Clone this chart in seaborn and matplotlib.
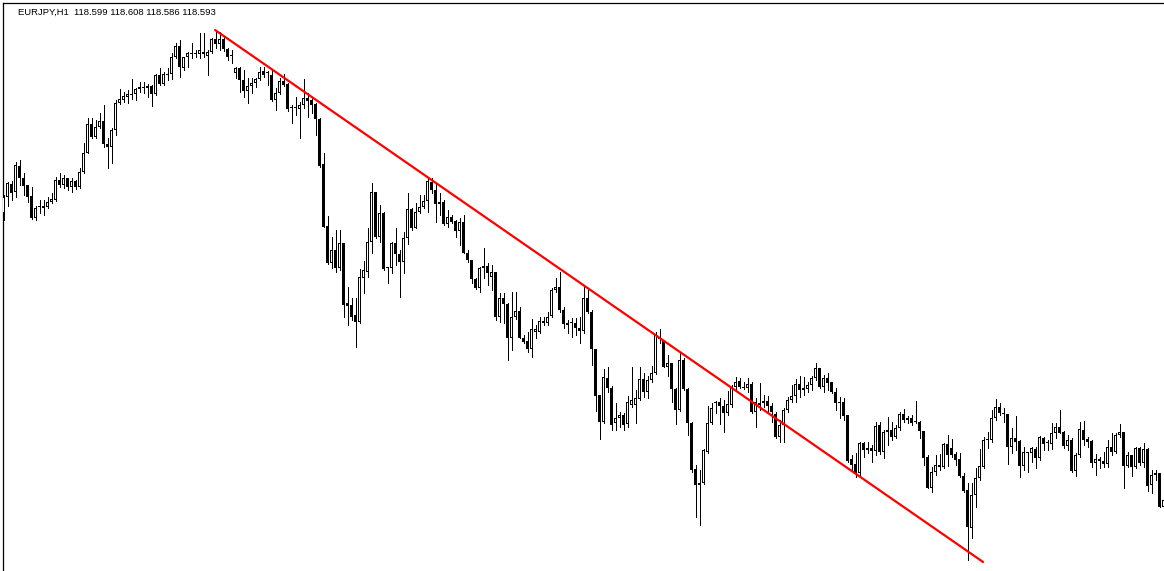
import numpy as np
import pandas as pd
import matplotlib
matplotlib.use("Agg")
import matplotlib.pyplot as plt
import seaborn as sns

symbol_label = "EURJPY,H1  118.599 118.608 118.586 118.593"

opens = [
    121.51, 121.67, 121.80, 121.72, 121.98, 121.86, 121.79, 121.68, 121.46, 121.57,
    121.56, 121.57, 121.62, 121.64, 121.84, 121.79, 121.86, 121.77, 121.83, 121.77,
    121.92, 122.11, 122.40, 122.27, 122.37, 122.43, 122.20, 122.17, 122.34, 122.61,
    122.64, 122.67, 122.69, 122.70, 122.75, 122.76, 122.76, 122.78, 122.70, 122.89,
    122.80, 122.89, 122.90, 123.07, 123.18, 122.96, 123.07, 123.10, 123.10, 123.10,
    123.12, 123.08, 123.12, 123.25, 123.20, 123.25, 123.15, 123.09, 122.91, 122.96,
    122.84, 122.73, 122.78, 122.81, 122.85, 122.93, 122.91, 122.89, 122.64, 122.71,
    122.83, 122.80, 122.56, 122.56, 122.55, 122.59, 122.66, 122.64, 122.60, 122.45,
    122.00, 121.38, 121.01, 121.14, 120.96, 121.21, 120.61, 120.59, 120.49, 120.42,
    120.86, 120.92, 121.22, 121.72, 121.27, 121.51, 120.96, 120.96, 121.21, 121.10,
    121.02, 121.26, 121.55, 121.36, 121.52, 121.57, 121.63, 121.82, 121.74, 121.60,
    121.62, 121.40, 121.47, 121.43, 121.33, 121.42, 121.11, 121.04, 120.85, 120.76,
    120.96, 120.98, 120.87, 120.92, 120.47, 120.66, 120.60, 120.26, 120.47, 120.53,
    120.26, 120.23, 120.15, 120.32, 120.32, 120.41, 120.41, 120.48, 120.74, 120.77,
    120.54, 120.41, 120.41, 120.41, 120.36, 120.33, 120.66, 120.52, 120.15, 119.69,
    119.42, 119.86, 119.76, 119.41, 119.46, 119.49, 119.40, 119.59, 119.59, 119.65,
    119.85, 119.72, 119.84, 119.91, 120.27, 120.24, 119.97, 120.01, 119.75, 119.54,
    120.04, 119.75, 119.41, 118.95, 118.79, 118.81, 119.12, 119.41, 119.61, 119.62,
    119.58, 119.51, 119.59, 119.77, 119.83, 119.77, 119.76, 119.80, 119.52, 119.59,
    119.61, 119.63, 119.58, 119.50, 119.27, 119.39, 119.54, 119.64, 119.68, 119.80,
    119.76, 119.75, 119.79, 119.86, 119.96, 119.77, 119.86, 119.82, 119.72, 119.62,
    119.62, 119.49, 119.05, 119.00, 118.91, 119.21, 119.16, 119.16, 119.13, 119.39,
    119.12, 119.32, 119.34, 119.27, 119.36, 119.50, 119.44, 119.46, 119.43, 119.42,
    119.33, 119.07, 118.76, 118.92, 118.97, 118.97, 119.20, 119.16, 119.10, 119.05,
    118.88, 118.74, 118.36, 118.69, 118.86, 118.97, 119.24, 119.24, 119.46, 119.57,
    119.51, 119.50, 119.17, 119.26, 119.23, 118.98, 119.12, 119.11, 119.15, 119.06,
    119.26, 119.21, 119.20, 119.31, 119.37, 119.32, 119.18, 119.24, 118.93, 119.09,
    119.34, 119.25, 119.23, 119.01, 119.03, 119.03, 119.00, 119.17, 119.12, 119.29,
    119.32, 118.98, 119.09, 118.97, 119.16, 119.01, 119.15, 118.79, 118.89, 118.91,
    118.57,
]

highs = [
    121.69, 121.82, 121.83, 122.02, 122.04, 121.91, 121.79, 121.77, 121.58, 121.64,
    121.64, 121.67, 121.71, 121.87, 121.91, 121.89, 121.86, 121.86, 121.84, 121.96,
    122.21, 122.46, 122.46, 122.44, 122.51, 122.59, 122.26, 122.36, 122.64, 122.75,
    122.72, 122.74, 122.85, 122.76, 122.82, 122.82, 122.80, 122.79, 122.90, 122.96,
    122.92, 122.96, 123.11, 123.21, 123.24, 123.07, 123.12, 123.21, 123.14, 123.31,
    123.31, 123.14, 123.26, 123.34, 123.32, 123.27, 123.16, 123.14, 122.97, 122.97,
    122.94, 122.86, 122.86, 122.86, 122.97, 122.97, 122.93, 122.94, 122.76, 122.86,
    122.90, 122.81, 122.59, 122.67, 122.62, 122.85, 122.71, 122.67, 122.61, 122.46,
    122.11, 121.48, 121.27, 121.34, 121.34, 121.21, 120.77, 120.66, 120.66, 120.95,
    121.03, 121.36, 121.81, 121.72, 121.59, 121.52, 120.97, 121.22, 121.36, 121.14,
    121.32, 121.71, 121.56, 121.61, 121.69, 121.69, 121.86, 121.86, 121.81, 121.71,
    121.64, 121.54, 121.49, 121.44, 121.46, 121.49, 121.14, 121.04, 120.86, 120.97,
    121.16, 121.01, 120.99, 120.92, 120.71, 120.71, 120.61, 120.72, 120.72, 120.57,
    120.29, 120.32, 120.45, 120.39, 120.47, 120.47, 120.52, 120.76, 120.86, 120.92,
    120.57, 120.44, 120.46, 120.46, 120.47, 120.77, 120.76, 120.54, 120.15, 119.69,
    119.95, 119.97, 119.78, 119.61, 119.52, 119.51, 119.68, 119.97, 119.74, 119.97,
    119.91, 119.88, 119.98, 120.32, 120.35, 120.24, 120.09, 120.01, 119.76, 120.12,
    120.06, 119.76, 119.42, 118.99, 118.94, 119.15, 119.58, 119.61, 119.63, 119.66,
    119.64, 119.73, 119.79, 119.87, 119.86, 119.82, 119.86, 119.82, 119.66, 119.81,
    119.69, 119.68, 119.61, 119.52, 119.44, 119.56, 119.67, 119.79, 119.85, 119.88,
    119.87, 119.82, 119.88, 120.01, 119.96, 119.89, 119.91, 119.82, 119.76, 119.67,
    119.66, 119.49, 119.09, 119.11, 119.22, 119.22, 119.22, 119.19, 119.42, 119.42,
    119.34, 119.47, 119.42, 119.39, 119.52, 119.55, 119.48, 119.49, 119.63, 119.43,
    119.33, 119.09, 118.97, 119.09, 119.10, 119.21, 119.29, 119.25, 119.12, 119.11,
    118.91, 118.81, 118.81, 118.96, 119.15, 119.27, 119.32, 119.54, 119.65, 119.61,
    119.56, 119.50, 119.36, 119.48, 119.24, 119.17, 119.12, 119.17, 119.17, 119.28,
    119.27, 119.24, 119.41, 119.41, 119.54, 119.33, 119.29, 119.26, 119.11, 119.42,
    119.43, 119.27, 119.24, 119.10, 119.07, 119.12, 119.24, 119.31, 119.31, 119.40,
    119.32, 119.12, 119.09, 119.17, 119.17, 119.21, 119.16, 118.94, 118.94, 118.91,
    118.74,
]

lows = [
    121.44, 121.58, 121.64, 121.67, 121.79, 121.69, 121.62, 121.45, 121.44, 121.51,
    121.49, 121.56, 121.61, 121.63, 121.77, 121.76, 121.74, 121.72, 121.75, 121.76,
    121.91, 122.11, 122.26, 122.26, 122.36, 122.17, 121.96, 122.01, 122.29, 122.60,
    122.62, 122.61, 122.65, 122.64, 122.72, 122.71, 122.67, 122.58, 122.69, 122.79,
    122.79, 122.84, 122.85, 123.06, 122.87, 122.94, 122.97, 123.06, 123.07, 123.06,
    123.07, 122.89, 123.11, 123.16, 123.14, 123.13, 123.04, 123.01, 122.86, 122.72,
    122.67, 122.61, 122.71, 122.77, 122.84, 122.87, 122.79, 122.63, 122.54, 122.70,
    122.78, 122.53, 122.41, 122.49, 122.26, 122.56, 122.47, 122.51, 122.29, 121.97,
    121.37, 121.00, 120.96, 120.92, 120.94, 120.47, 120.39, 120.44, 120.17, 120.41,
    120.71, 120.87, 121.11, 121.26, 121.22, 120.94, 120.81, 120.91, 120.99, 120.67,
    120.91, 121.20, 121.34, 121.36, 121.51, 121.56, 121.52, 121.71, 121.42, 121.49,
    121.39, 121.37, 121.41, 121.27, 121.19, 121.11, 121.02, 120.81, 120.75, 120.72,
    120.86, 120.79, 120.74, 120.44, 120.42, 120.41, 120.04, 120.14, 120.45, 120.26,
    120.21, 120.12, 120.07, 120.26, 120.31, 120.39, 120.39, 120.47, 120.72, 120.52,
    120.36, 120.31, 120.27, 120.29, 120.21, 120.31, 120.51, 119.99, 119.53, 119.25,
    119.41, 119.72, 119.34, 119.34, 119.37, 119.34, 119.37, 119.57, 119.41, 119.64,
    119.67, 119.66, 119.82, 119.90, 120.21, 119.97, 119.88, 119.62, 119.40, 119.53,
    119.74, 119.29, 118.92, 118.47, 118.39, 118.80, 119.11, 119.40, 119.51, 119.40,
    119.32, 119.49, 119.57, 119.74, 119.76, 119.75, 119.72, 119.51, 119.37, 119.54,
    119.57, 119.52, 119.42, 119.26, 119.22, 119.22, 119.52, 119.62, 119.62, 119.67,
    119.69, 119.72, 119.74, 119.84, 119.76, 119.72, 119.74, 119.71, 119.54, 119.46,
    119.44, 119.02, 118.94, 118.87, 118.89, 119.07, 119.11, 119.02, 119.09, 119.10,
    119.06, 119.19, 119.24, 119.26, 119.34, 119.42, 119.41, 119.39, 119.41, 119.26,
    118.99, 118.76, 118.72, 118.89, 118.94, 118.96, 118.98, 119.07, 118.99, 118.87,
    118.72, 118.04, 118.26, 118.57, 118.84, 118.96, 119.16, 119.22, 119.44, 119.49,
    119.42, 119.00, 119.11, 119.14, 118.87, 118.94, 118.92, 119.02, 118.96, 119.04,
    119.14, 119.14, 119.15, 119.26, 119.31, 119.16, 119.14, 118.92, 118.88, 119.07,
    119.19, 119.17, 118.97, 118.89, 118.96, 118.97, 118.97, 119.09, 119.11, 119.27,
    118.76, 118.97, 118.88, 118.96, 118.99, 118.97, 118.73, 118.71, 118.84, 118.57,
    118.46,
]

closes = [
    121.67, 121.81, 121.71, 121.99, 121.86, 121.78, 121.67, 121.46, 121.56, 121.58,
    121.58, 121.62, 121.65, 121.84, 121.79, 121.86, 121.77, 121.83, 121.77, 121.92,
    122.11, 122.40, 122.27, 122.37, 122.43, 122.20, 122.17, 122.34, 122.61, 122.65,
    122.68, 122.70, 122.70, 122.75, 122.77, 122.77, 122.78, 122.70, 122.89, 122.80,
    122.90, 122.90, 123.07, 123.18, 122.97, 123.07, 123.11, 123.11, 123.11, 123.14,
    123.10, 123.12, 123.25, 123.20, 123.25, 123.15, 123.07, 123.08, 122.96, 122.84,
    122.73, 122.78, 122.81, 122.85, 122.92, 122.89, 122.91, 122.64, 122.71, 122.83,
    122.79, 122.55, 122.56, 122.56, 122.59, 122.66, 122.63, 122.59, 122.45, 121.98,
    121.37, 121.01, 121.14, 120.96, 121.21, 120.59, 120.58, 120.47, 120.42, 120.87,
    120.94, 121.22, 121.72, 121.27, 121.51, 120.95, 120.96, 121.21, 121.10, 121.02,
    121.26, 121.55, 121.36, 121.52, 121.57, 121.63, 121.83, 121.74, 121.60, 121.62,
    121.40, 121.47, 121.42, 121.33, 121.42, 121.11, 121.04, 120.85, 120.76, 120.96,
    120.98, 120.91, 120.92, 120.47, 120.66, 120.60, 120.26, 120.47, 120.53, 120.26,
    120.22, 120.15, 120.35, 120.35, 120.43, 120.43, 120.47, 120.74, 120.77, 120.54,
    120.40, 120.39, 120.41, 120.36, 120.33, 120.66, 120.52, 120.15, 119.68, 119.42,
    119.87, 119.76, 119.39, 119.46, 119.49, 119.39, 119.62, 119.64, 119.66, 119.85,
    119.72, 119.84, 119.91, 120.29, 120.25, 119.97, 120.01, 119.75, 119.54, 120.04,
    119.75, 119.41, 118.94, 118.79, 118.81, 119.14, 119.41, 119.56, 119.62, 119.58,
    119.51, 119.60, 119.77, 119.82, 119.77, 119.76, 119.80, 119.52, 119.62, 119.61,
    119.63, 119.58, 119.52, 119.27, 119.39, 119.54, 119.64, 119.68, 119.80, 119.74,
    119.74, 119.79, 119.86, 119.96, 119.77, 119.86, 119.81, 119.72, 119.61, 119.61,
    119.48, 119.03, 118.99, 118.91, 119.21, 119.14, 119.14, 119.13, 119.38, 119.12,
    119.32, 119.34, 119.27, 119.36, 119.50, 119.44, 119.46, 119.41, 119.42, 119.33,
    119.06, 118.76, 118.92, 118.99, 118.99, 119.20, 119.09, 119.09, 119.04, 118.88,
    118.73, 118.37, 118.69, 118.86, 118.98, 119.24, 119.24, 119.46, 119.57, 119.51,
    119.50, 119.17, 119.26, 119.22, 118.98, 119.12, 119.11, 119.16, 119.06, 119.27,
    119.20, 119.21, 119.31, 119.37, 119.31, 119.18, 119.24, 118.93, 119.09, 119.35,
    119.24, 119.22, 119.01, 119.05, 119.05, 119.00, 119.17, 119.12, 119.29, 119.32,
    118.98, 119.09, 118.97, 119.16, 119.01, 119.15, 118.78, 118.89, 118.91, 118.57,
    118.64,
]

# Trendline anchors: (bar index, price)
trend_bar = [52.9, 244.9]
trend_price = [123.34, 118.02]

df = pd.DataFrame({"open": opens, "high": highs, "low": lows, "close": closes})
df["bar"] = np.arange(len(df))
df["bull"] = df["close"] >= df["open"]
df["body_low"] = df[["open", "close"]].min(axis=1)
df["body_top"] = df[["open", "close"]].max(axis=1)

sns.set_style("white")
plt.rcParams["font.family"] = ["Liberation Sans", "DejaVu Sans"]

W, H = 1164, 571
PX_PER_PRICE = 100.0
fig = plt.figure(figsize=(W / 100, H / 100), dpi=100)
fig.patch.set_facecolor("white")
ax = fig.add_axes([2.5 / W, 0.0, 1 - 2.5 / W, 1 - 2.5 / H])
ax.set_facecolor("white")

one_px = 1.0 / PX_PER_PRICE

# wicks
ax.vlines(df["bar"], df["low"], df["high"], color="black", linewidth=0.72,
          antialiased=False, zorder=2)

# bodies: solid black block (outline for bulls, fill for bears)
body_h = np.maximum(df["body_top"] - df["body_low"], one_px)
ax.bar(df["bar"], body_h, bottom=df["body_low"], width=0.75,
       color="black", linewidth=0, antialiased=False, zorder=3)

# white interior of bullish candles
bull = df[df["bull"] & ((df["body_top"] - df["body_low"]) > 2 * one_px)]
ax.bar(bull["bar"], bull["body_top"] - bull["body_low"] - 2 * one_px,
       bottom=bull["body_low"] + one_px, width=0.25,
       color="white", linewidth=0, antialiased=False, zorder=4)

# trendline
tl = pd.DataFrame({"bar": trend_bar, "price": trend_price})
sns.lineplot(data=tl, x="bar", y="price", ax=ax, color="#ff0000", linewidth=1.6,
             zorder=5, legend=False)

ax.set_xlim(-0.25, -0.25 + (W - 2.5) / 4.0)
ax.set_ylim(123.615 - (H - 2.5) / PX_PER_PRICE, 123.615)
ax.set_xlabel("")
ax.set_ylabel("")
ax.set_xticks([])
ax.set_yticks([])
for s in ["right", "bottom"]:
    ax.spines[s].set_visible(False)
for s in ["left", "top"]:
    ax.spines[s].set_visible(True)
    ax.spines[s].set_color("black")
    ax.spines[s].set_linewidth(0.9)

fig.text(18 / W, 1 - 15 / H, symbol_label, fontsize=6.8, color="black",
         ha="left", va="baseline")

fig.savefig("out.png", dpi=100, facecolor="white")
